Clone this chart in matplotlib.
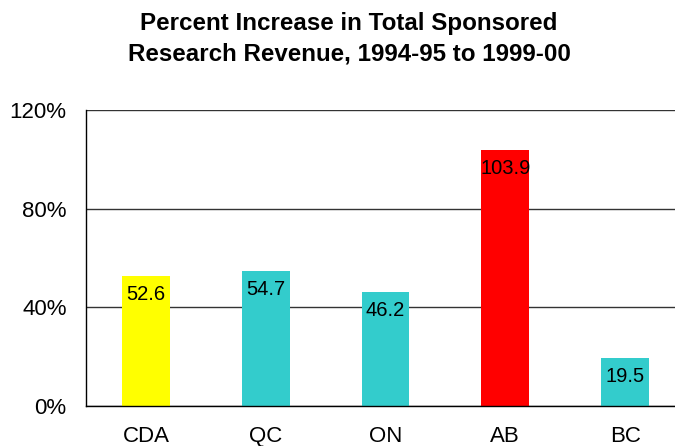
import matplotlib
matplotlib.use("Agg")
import matplotlib.pyplot as plt

regions = ["CDA", "QC", "ON", "AB", "BC"]
increase = [52.6, 54.7, 46.2, 103.9, 19.5]
bar_colors = ["#FFFF00", "#33CCCC", "#33CCCC", "#FF0000", "#33CCCC"]
y_ticks = [0, 40, 80, 120]
y_tick_labels = ["0%", "40%", "80%", "120%"]
title = "Percent Increase in Total Sponsored\nResearch Revenue, 1994-95 to 1999-00"

plt.rcParams["font.family"] = ["Liberation Sans", "DejaVu Sans"]

fig = plt.figure(figsize=(6.75, 4.46), dpi=100)
ax = fig.add_axes([86 / 675, 40 / 446, 599 / 675, 296 / 446])

x = range(len(regions))
bars = ax.bar(x, increase, width=0.4, color=bar_colors, zorder=3)

ax.set_xlim(-0.5, len(regions) - 0.5)
ax.set_ylim(0, 120)
ax.set_yticks(y_ticks)
ax.set_yticklabels(y_tick_labels, fontsize=16)
ax.set_xticks(list(x))
ax.set_xticklabels(regions, fontsize=16)
ax.tick_params(axis="both", length=0)
ax.tick_params(axis="y", pad=14)
ax.tick_params(axis="x", pad=14.5)

ax.yaxis.grid(True, color="#333333", linewidth=1.0, zorder=0)
ax.set_axisbelow(True)
for side in ("top", "right"):
    ax.spines[side].set_visible(False)
for side in ("left", "bottom"):
    ax.spines[side].set_color("black")
    ax.spines[side].set_linewidth(1.0)
    ax.spines[side].set_zorder(4)

for rect, val in zip(bars, increase):
    ax.annotate(f"{val:.1f}", (rect.get_x() + rect.get_width() / 2, val),
                xytext=(0, -6.5), textcoords="offset points",
                ha="center", va="top", fontsize=14.5, color="black", zorder=5)

fig.text(349 / 675, 1 - 39 / 446, title, ha="center", va="center",
         fontsize=17.4, fontweight="bold", linespacing=1.42)

fig.savefig("out.png", dpi=100)
